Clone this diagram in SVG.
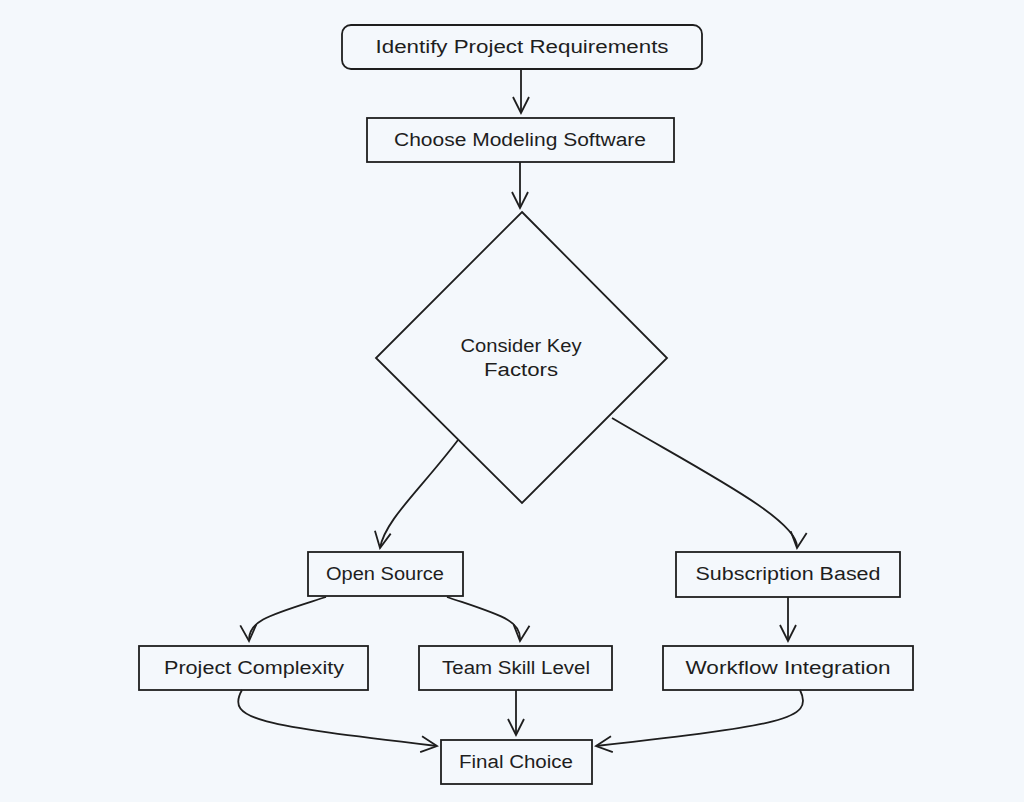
<svg xmlns="http://www.w3.org/2000/svg" width="1024" height="802" viewBox="0 0 1024 802">
<style>
.box{fill:none;stroke:#1e1e1e;stroke-width:1.8}
.lbl{font-family:"Liberation Sans",Arial,sans-serif;font-size:18px;fill:#1e1e1e;text-anchor:middle;dominant-baseline:central}
.edge{fill:none;stroke:#1e1e1e;stroke-width:1.8;marker-end:url(#arr)}
</style>
<defs>
<marker id="arr" viewBox="0 0 20 20" refX="18" refY="10" markerWidth="20" markerHeight="20" markerUnits="userSpaceOnUse" orient="auto">
<path d="M2,2 L18,10 L2,18" fill="none" stroke="#1e1e1e" stroke-width="1.8"/>
</marker>
</defs>
<rect width="1024" height="802" fill="#f4f8fc"/>
<g id="edges">
<path class="edge" d="M521,69 L521,113"/>
<path class="edge" d="M520,162 L520,208"/>
<path class="edge" d="M458,440 C420,490 385,520 380,548"/>
<path class="edge" d="M612,418 C700,470 800,520 797,548"/>
<path class="edge" d="M326,597 C270,615 248,620 249,641"/>
<path class="edge" d="M447,597 C500,615 522,620 520,641"/>
<path class="edge" d="M788,597 L788,641"/>
<path class="edge" d="M516,690 L516,735"/>
<path class="edge" d="M242,690 C225,720 260,725 437,746"/>
<path class="edge" d="M800,690 C815,720 780,725 596,746"/>
</g>
<g id="n1"><rect class="box" x="342" y="25" width="360" height="44" rx="9"/><text class="lbl" x="522" y="47" textLength="293" lengthAdjust="spacingAndGlyphs">Identify Project Requirements</text></g>
<g id="n2"><rect class="box" x="367" y="118" width="307" height="44"/><text class="lbl" x="520" y="140" textLength="252" lengthAdjust="spacingAndGlyphs">Choose Modeling Software</text></g>
<g id="n3"><polygon class="box" points="522,212 667,358 522,503 376,358"/><text class="lbl" x="521" y="346" textLength="121" lengthAdjust="spacingAndGlyphs">Consider Key</text><text class="lbl" x="521" y="370" textLength="74" lengthAdjust="spacingAndGlyphs">Factors</text></g>
<g id="n4"><rect class="box" x="308" y="552" width="155" height="44"/><text class="lbl" x="385" y="574" textLength="118" lengthAdjust="spacingAndGlyphs">Open Source</text></g>
<g id="n5"><rect class="box" x="676" y="552" width="224" height="45"/><text class="lbl" x="788" y="574" textLength="185" lengthAdjust="spacingAndGlyphs">Subscription Based</text></g>
<g id="n6"><rect class="box" x="139" y="646" width="229" height="44"/><text class="lbl" x="254" y="668" textLength="180" lengthAdjust="spacingAndGlyphs">Project Complexity</text></g>
<g id="n7"><rect class="box" x="419" y="646" width="193" height="44"/><text class="lbl" x="516" y="668" textLength="148" lengthAdjust="spacingAndGlyphs">Team Skill Level</text></g>
<g id="n8"><rect class="box" x="663" y="646" width="250" height="44"/><text class="lbl" x="788" y="668" textLength="205" lengthAdjust="spacingAndGlyphs">Workflow Integration</text></g>
<g id="n9"><rect class="box" x="441" y="740" width="151" height="44"/><text class="lbl" x="516" y="762" textLength="114" lengthAdjust="spacingAndGlyphs">Final Choice</text></g>
</svg>
